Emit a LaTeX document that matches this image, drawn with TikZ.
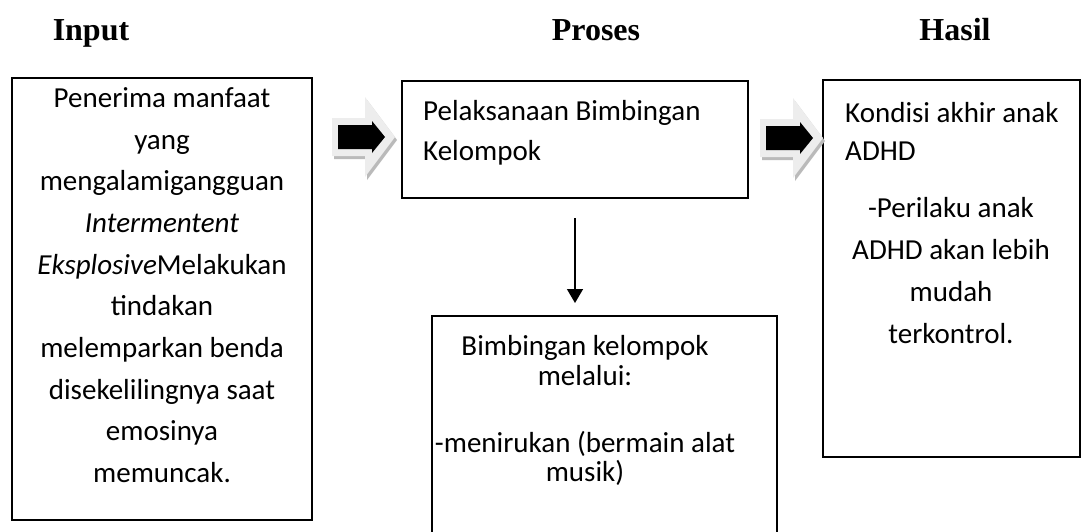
\documentclass[tikz,border=0pt]{standalone}
\usepackage{fontspec}
\setmainfont{Carlito}
\newfontfamily\hdrfont{Liberation Serif}
\usetikzlibrary{arrows.meta,calc}
\tikzset{
  box/.style={draw=black,line width=1.5pt,inner sep=0pt,outer sep=0pt,anchor=north west},
  txt/.style={inner sep=0pt,anchor=base,font=\fontsize{29}{35}\selectfont},
  txtl/.style={txt,anchor=base west},
  hdr/.style={inner sep=0pt,anchor=base,font=\hdrfont\bfseries\fontsize{32}{38}\selectfont},
  blockarr/.pic={
    \fill[black!27] ([shift={(2,3)}]0,-19) -- ++(33,0) -- ++(0,-21) -- ++(30,40) -- ++(-30,40) -- ++(0,-21) -- ++(-33,0) -- cycle;
    \fill[black!7] (0,-19) -- (33,-19) -- (33,-40) -- (63,0) -- (33,40) -- (33,19) -- (0,19) -- cycle;
    \fill[black] (6,-12) -- (40,-12) -- (40,-16) -- (53,0) -- (40,16) -- (40,12) -- (6,12) -- cycle;
  }
}
\begin{document}
\begin{tikzpicture}[x=1pt,y=-1pt]
\useasboundingbox (0,0) rectangle (1081,531);
\clip (0,0) rectangle (1081,531);

% headers
\node[hdr] (hin) at (91,40) {Input};
\node[hdr] (hpr) at (596,40) {Proses};
\node[hdr] (hha) at (955,40) {Hasil};

% boxes
\node[box,minimum width=300pt,minimum height=442pt] (inp) at (12,78) {};
\node[box,minimum width=346pt,minimum height=117pt] (mid) at (402,81) {};
\node[box,minimum width=257pt,minimum height=377pt] (res) at (823,80) {};
\node[box,minimum width=345pt,minimum height=240pt] (bot) at (432,316) {};

% input text
\node[txt] (i1) at (162,107) {Penerima manfaat};
\node[txt] (i2) at (162,149) {yang};
\node[txt] (i3) at (162,190) {mengalamigangguan};
\node[txt] (i4) at (162,232) {\textit{Intermentent}};
\node[txt] (i5) at (162,274) {\textit{Eksplosive}Melakukan};
\node[txt] (i6) at (162,315) {tindakan};
\node[txt] (i7) at (162,357) {melemparkan benda};
\node[txt] (i8) at (162,399) {disekelilingnya saat};
\node[txt] (i9) at (162,440) {emosinya};
\node[txt] (i10) at (162,482) {memuncak.};

% process text
\node[txtl] (m1) at (423,120) {Pelaksanaan Bimbingan};
\node[txtl] (m2) at (423,160) {Kelompok};

% bottom text
\node[txt] (b1) at (585,355) {Bimbingan kelompok};
\node[txt] (b2) at (585,385) {melalui:};
\node[txt] (b3) at (585,452) {-menirukan (bermain alat};
\node[txt] (b4) at (585,481) {musik)};

% result text
\node[txtl] (r1) at (845,122) {Kondisi akhir anak};
\node[txtl] (r2) at (845,160) {ADHD};
\node[txt] (r3) at (951,217) {-Perilaku anak};
\node[txt] (r4) at (951,259) {ADHD akan lebih};
\node[txt] (r5) at (951,301) {mudah};
\node[txt] (r6) at (951,343) {terkontrol.};

% block arrows
\pic at (332,137) {blockarr};
\pic at (760,138) {blockarr};

% down arrow
\draw[line width=1.5pt,-{Triangle[width=16pt,length=14pt]}] ([yshift=-20pt]mid.south) -- ([yshift=13pt]mid.south |- bot.north);
\end{tikzpicture}
\end{document}
